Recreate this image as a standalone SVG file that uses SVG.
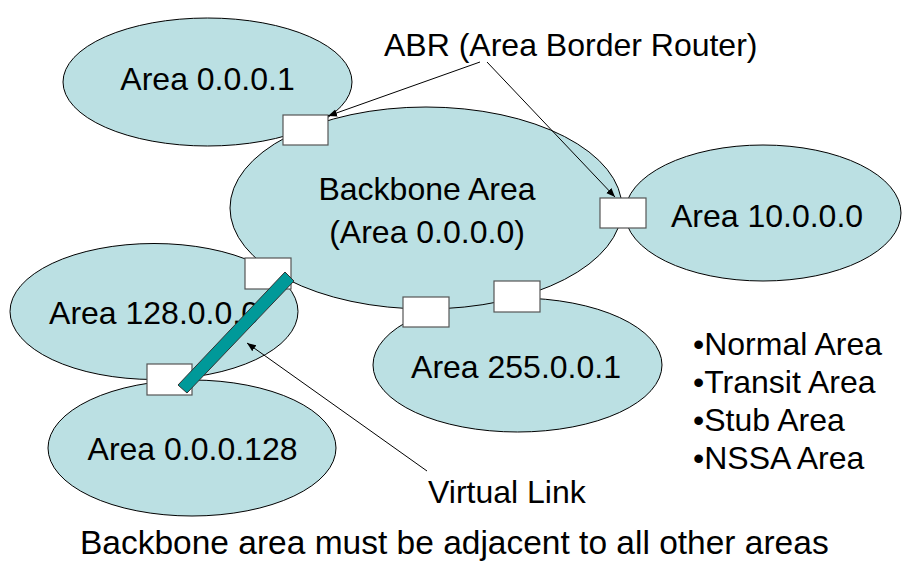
<svg xmlns="http://www.w3.org/2000/svg" width="908" height="562" viewBox="0 0 908 562">
<style>
.area{fill:#BBE0E3;stroke:#000;stroke-width:1}
.abr{fill:#fff;stroke:#555;stroke-width:1.2}
.t{font-family:"Liberation Sans",Arial,sans-serif;font-size:32px;fill:#000}
.c{text-anchor:middle}
.ln{stroke:#000;stroke-width:1;fill:none}
</style>
<defs>
<marker id="ah" viewBox="0 0 10 10" refX="10" refY="5" markerWidth="9" markerHeight="9" markerUnits="userSpaceOnUse" orient="auto">
<path d="M0,1 L10,5 L0,9 Z" fill="#000"/>
</marker>
</defs>
<rect width="908" height="562" fill="#fff"/>
<g id="area-0-0-0-1"><ellipse class="area" cx="207.5" cy="82" rx="144.5" ry="64"/><text class="t c" x="207.5" y="90">Area 0.0.0.1</text></g>
<g id="area-10"><ellipse class="area" cx="763" cy="213" rx="138" ry="68"/><text class="t c" x="767" y="227">Area 10.0.0.0</text></g>
<g id="area-128"><ellipse class="area" cx="154" cy="311.5" rx="144" ry="68"/><text class="t c" x="154" y="324">Area 128.0.0.0</text></g>
<g id="area-0-0-0-128"><ellipse class="area" cx="192" cy="448" rx="144" ry="68"/><text class="t c" x="192.5" y="460">Area 0.0.0.128</text></g>
<g id="area-255"><ellipse class="area" cx="517.5" cy="365" rx="144.5" ry="67"/><text class="t c" x="516" y="378">Area 255.0.0.1</text></g>
<g id="backbone"><ellipse class="area" cx="426" cy="208" rx="196" ry="101"/><text class="t c" x="427" y="200">Backbone Area</text><text class="t c" x="427" y="243">(Area 0.0.0.0)</text></g>
<g id="abr-1"><rect class="abr" x="283" y="115" width="45" height="30"/></g>
<g id="abr-2"><rect class="abr" x="600" y="198" width="46" height="30"/></g>
<g id="abr-3"><rect class="abr" x="245" y="258" width="46" height="31"/></g>
<g id="abr-4"><rect class="abr" x="147" y="364" width="45" height="31"/></g>
<g id="abr-5"><rect class="abr" x="403" y="297" width="46" height="30"/></g>
<g id="abr-6"><rect class="abr" x="494" y="281" width="46" height="31"/></g>
<g id="virtual-link"><polygon points="178,385 285,272 294,281 187,393" fill="#009999" stroke="#333" stroke-width="1"/></g>
<g id="connectors">
<line class="ln" x1="480" y1="62" x2="328" y2="116" marker-end="url(#ah)"/>
<line class="ln" x1="487" y1="62" x2="615" y2="197" marker-end="url(#ah)"/>
<line class="ln" x1="427" y1="471" x2="247" y2="343" marker-end="url(#ah)"/>
</g>
<g id="labels">
<text class="t" x="384" y="56">ABR (Area Border Router)</text>
<text class="t" x="428" y="503">Virtual Link</text>
<text class="t" x="693" y="355">•Normal Area</text>
<text class="t" x="693" y="393">•Transit Area</text>
<text class="t" x="693" y="431">•Stub Area</text>
<text class="t" x="693" y="469">•NSSA Area</text>
<text class="t" x="80" y="554" style="font-size:33.5px">Backbone area must be adjacent to all other areas</text>
</g>
</svg>
